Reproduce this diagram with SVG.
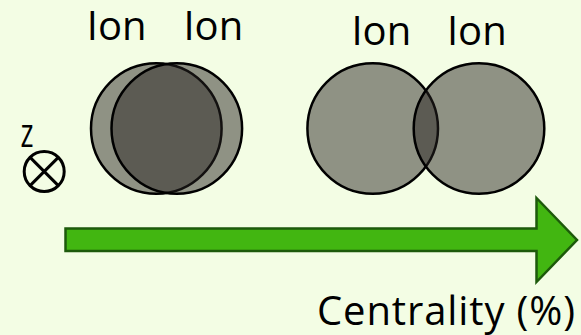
<svg xmlns="http://www.w3.org/2000/svg" width="581" height="335" viewBox="0 0 581 335">
  <style>
    .ion { fill: #262320; fill-opacity: 0.49; stroke: #000; stroke-width: 2.5; }
    .lbl { font-family: "Open Sans", "Liberation Sans", sans-serif; font-size: 40px; fill: #000; }
    .axis { fill: none; stroke: #000; stroke-width: 3; }
  </style>
  <rect x="0" y="0" width="581" height="335" fill="#f3fde4"/>

  <g id="ion-pair-central">
    <circle class="ion" cx="156.3" cy="128.5" r="65.3"/>
    <circle class="ion" cx="176.8" cy="128.5" r="65.3"/>
    <text class="lbl" x="116.7" y="40" text-anchor="middle">Ion</text>
    <text class="lbl" x="213.3" y="40" text-anchor="middle">Ion</text>
  </g>

  <g id="ion-pair-peripheral">
    <circle class="ion" cx="372.7" cy="128.5" r="65.3"/>
    <circle class="ion" cx="479" cy="128.5" r="65.3"/>
    <text class="lbl" x="381.3" y="45" text-anchor="middle">Ion</text>
    <text class="lbl" x="476.8" y="45" text-anchor="middle">Ion</text>
  </g>

  <g id="z-axis">
    <text class="lbl" x="20.5" y="147" font-size="34" textLength="13" lengthAdjust="spacingAndGlyphs">z</text>
    <circle class="axis" cx="44.2" cy="171.5" r="20"/>
    <line class="axis" x1="30.1" y1="157.4" x2="58.3" y2="185.6"/>
    <line class="axis" x1="58.3" y1="157.4" x2="30.1" y2="185.6"/>
  </g>

  <g id="connectors">
    <g id="centrality-arrow">
      <polygon points="65.5,228.5 536.5,228.5 536.5,198 577,240 536.5,282 536.5,251 65.5,251" fill="#42b611" stroke="#1d5a0b" stroke-width="2.5" stroke-linejoin="miter"/>
    </g>
  </g>

  <g id="centrality-label">
    <text class="lbl" x="575" y="325" text-anchor="end" font-size="39" textLength="258" lengthAdjust="spacing">Centrality (%)</text>
  </g>
</svg>
